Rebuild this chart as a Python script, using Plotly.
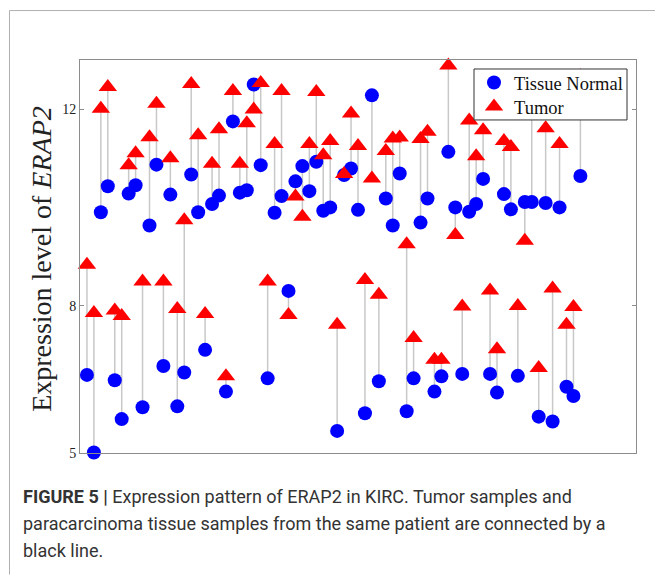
import plotly.graph_objects as go

# Paired ERAP2 expression values per patient (KIRC)
patients = list(range(1, 73))

normal = [6.59, 5.01, 9.90, 10.43, 6.48, 5.69, 10.28, 10.45, 5.93, 9.63,
          10.87, 6.77, 10.26, 5.95, 6.64, 10.67, 9.90, 7.10, 10.07, 10.24,
          6.25, 11.75, 10.30, 10.35, 12.50, 10.86, 6.52, 9.89, 10.23, 8.30,
          10.53, 10.84, 10.33, 10.93, 9.93, 10.00, 5.45, 10.66, 10.79, 9.95,
          5.81, 12.28, 6.46, 10.18, 9.63, 10.69, 5.85, 6.52, 9.69, 10.18,
          6.25, 6.56, 11.13, 10.00, 6.61, 9.91, 10.07, 10.58, 6.61, 6.23,
          10.27, 9.96, 6.57, 10.11, 10.11, 5.74, 10.09, 5.64, 10.00, 6.35,
          6.16, 10.64]

tumor = [8.83, 7.85, 12.01, 12.45, 7.90, 7.79, 10.86, 11.10, 8.49, 11.43,
         12.11, 8.49, 11.00, 7.93, 9.74, 12.51, 11.47, 7.83, 10.89, 11.59,
         6.56, 12.37, 10.89, 11.71, 11.99, 12.53, 8.49, 11.29, 12.37, 7.81,
         10.22, 9.81, 11.29, 12.35, 11.06, 11.35, 7.61, 10.68, 11.91, 11.25,
         8.52, 10.59, 8.22, 11.15, 11.40, 11.42, 9.25, 7.34, 11.39, 11.54,
         6.90, 6.90, 12.89, 9.44, 7.98, 11.77, 11.04, 11.57, 8.31, 7.11,
         11.35, 11.23, 7.99, 9.32, 11.88, 6.73, 11.61, 8.35, 11.29, 7.61,
         7.97, 12.67]

y_ticks = [5, 8, 12]

caption_lines = [
    "<b>FIGURE 5 |</b> Expression pattern of ERAP2 in KIRC. Tumor samples and",
    "paracarcinoma tissue samples from the same patient are connected by a",
    "black line.",
]

# connector segments between the two samples of each patient
seg_x, seg_y = [], []
for p, n, t in zip(patients, normal, tumor):
    seg_x += [p, p, None]
    seg_y += [n, t, None]

serif = "Liberation Serif, Times New Roman, serif"

fig = go.Figure()
fig.add_trace(go.Scatter(
    x=seg_x, y=seg_y, mode="lines",
    line=dict(color="#c8c8c8", width=1.5),
    hoverinfo="skip", showlegend=False, cliponaxis=False))
fig.add_trace(go.Scatter(
    x=patients, y=normal, mode="markers", name="Tissue Normal",
    marker=dict(symbol="circle", size=14, color="#0000ff"),
    cliponaxis=False, legend="legend"))
fig.add_trace(go.Scatter(
    x=patients, y=tumor, mode="markers", name="Tumor",
    marker=dict(symbol="triangle-up", size=16, color="#ff0000"),
    cliponaxis=False, legend="legend2"))

axis_col = "#8c8c8c"
fig.update_xaxes(range=[0, 80], showgrid=False, zeroline=False,
                 showticklabels=False, ticks="",
                 showline=True, linecolor=axis_col, linewidth=1, mirror=True)
fig.update_yaxes(range=[5, 13], tickvals=y_ticks, showgrid=False, zeroline=False,
                 ticks="inside", ticklen=4, tickcolor=axis_col,
                 tickfont=dict(family=serif, size=14, color="#222222"),
                 showline=True, linecolor=axis_col, linewidth=1, mirror="ticks")

# pixel -> paper helpers for the 556 x 393 px plot area
def px(xp):
    return (xp - 80) / 556.0

def py(yp):
    return (453.3 - yp) / 393.3

fig.add_annotation(
    text="Expression level of <i>ERAP2</i>", textangle=-90,
    xref="paper", yref="paper", x=px(42), y=py(259),
    xanchor="center", yanchor="middle", showarrow=False,
    font=dict(family=serif, size=28, color="#222222"))

# figure caption, one annotation per line
for i, line in enumerate(caption_lines):
    fig.add_annotation(
        text=line, align="left",
        xref="paper", yref="paper", x=px(21), y=py(497 + 27 * i),
        xanchor="left", yanchor="middle", showarrow=False,
        font=dict(family="Roboto, Liberation Sans, sans-serif",
                  size=18, color="#333333"))

# page frame lines (left and top)
frame_col = "#b0b0b0"
fig.add_shape(type="line", xref="paper", yref="paper",
              x0=px(9.5), x1=px(9.5), y0=py(575), y1=py(10.5),
              line=dict(color=frame_col, width=1))
fig.add_shape(type="line", xref="paper", yref="paper",
              x0=px(9.5), x1=px(655), y0=py(10.5), y1=py(10.5),
              line=dict(color=frame_col, width=1))

# legend box (drawn over the markers, under the legend entries)
fig.add_shape(type="rect", xref="paper", yref="paper", layer="above",
              x0=px(474), x1=px(627), y0=py(120), y1=py(69),
              fillcolor="white", line=dict(color="#333333", width=1))

leg_common = dict(xanchor="left", yanchor="middle",
                  bgcolor="rgba(0,0,0,0)", borderwidth=0,
                  font=dict(family=serif, size=18.5, color="#111111"))
fig.update_layout(
    width=655, height=575,
    margin=dict(l=80, r=19, t=60, b=122),
    paper_bgcolor="white", plot_bgcolor="white",
    legend=dict(x=px(474), y=py(83), **leg_common),
    legend2=dict(x=px(474), y=py(107), **leg_common),
)

fig.write_html("out.html")
